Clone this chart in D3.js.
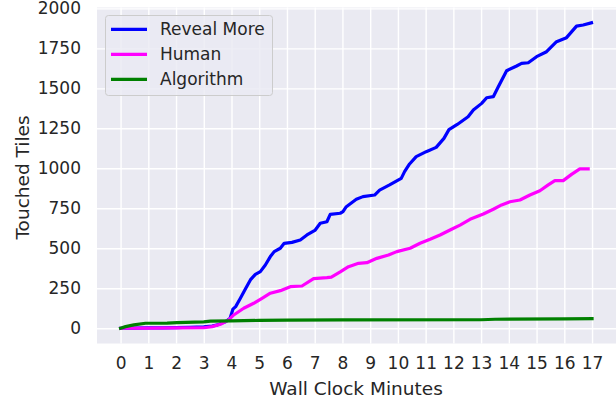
<!DOCTYPE html>
<html>
<head>
<meta charset="utf-8">
<script src="https://d3js.org/d3.v7.min.js"></script>
<style>
  body { margin: 0; background: #fff; }
  svg text { font-family: "DejaVu Sans", sans-serif; fill: #262626; }
  .grid line { stroke: #fff; stroke-width: 1.4; }
  .grid path { display: none; }
  .tick-lbl text { font-size: 17px; }
  .tick-lbl path, .tick-lbl line { display: none; }
</style>
</head>
<body>
<div id="chart"></div>
<script>
// minutes / touched tiles
var revealMore = [[0,0],[0.5,1],[1,2],[1.5,2],[2,4],[2.5,6],[3,8],[3.3,14],[3.5,21],[3.8,42],[3.95,62],
  [4.05,119],[4.15,135],[4.32,187],[4.5,245],[4.68,302],[4.86,337],[5.04,354],[5.22,395],[5.4,448],
  [5.54,479],[5.76,500],[5.9,531],[6.18,537],[6.48,552],[6.72,583],[7.02,614],[7.2,656],[7.44,666],
  [7.56,712],[7.92,719],[8.02,729],[8.14,760],[8.5,806],[8.74,823],[9.16,833],[9.34,864],[9.7,896],
  [10.12,937],[10.24,979],[10.42,1027],[10.66,1073],[11.02,1104],[11.38,1131],[11.66,1187],[11.84,1242],
  [12.14,1274],[12.53,1322],[12.72,1364],[13.02,1406],[13.2,1441],[13.44,1448],[13.62,1510],[13.92,1610],
  [14.28,1640],[14.46,1656],[14.7,1660],[15.0,1698],[15.36,1729],[15.72,1792],[16.08,1817],[16.44,1889],
  [16.68,1896],[16.98,1910]];
var human = [[0,0],[1,1],[2,2],[3,3],[3.3,10],[3.6,25],[3.9,52],[4.08,83],[4.44,125],[4.8,156],[5.1,187],
  [5.4,219],[5.76,235],[6.12,260],[6.54,264],[6.96,310],[7.44,316],[7.6,320],[7.92,352],[8.22,385],
  [8.58,406],[8.88,410],[9.24,437],[9.66,458],[9.96,479],[10.44,500],[10.8,531],[11.16,556],[11.52,583],
  [11.88,614],[12.24,645],[12.6,681],[13.08,714],[13.44,744],[13.74,771],[14.04,791],[14.4,802],
  [14.76,833],[15.12,860],[15.42,896],[15.66,923],[15.96,923],[16.26,962],[16.56,996],[16.86,996]];
var algorithm = [[0,0],[0.18,10],[0.48,21],[0.9,31],[1.68,32],[2.04,35],[3.0,40],[3.24,44],[4.0,46],
  [5,49],[6,51],[8,52],[13,53],[13.5,56],[16,58],[17,60]];

var seriesNames = ["Reveal More", "Human", "Algorithm"];
var seriesColors = ["#0000ff", "#ff00ff", "#008000"];
var xTicks = d3.range(0, 18);
var yTicks = [0, 250, 500, 750, 1000, 1250, 1500, 1750, 2000];

var width = 616, height = 404;
var plot = { left: 97, right: 617, top: 7.5, bottom: 343.5 };

var svg = d3.select("#chart").append("svg")
    .attr("width", width).attr("height", height);

var x = d3.scaleLinear().domain([-0.85, 17.9]).range([plot.left, plot.right]);
var y = d3.scaleLinear().domain([-95.5, 2005.5]).range([plot.bottom, plot.top]);

svg.append("rect")
    .attr("x", plot.left).attr("y", plot.top)
    .attr("width", plot.right - plot.left).attr("height", plot.bottom - plot.top)
    .attr("fill", "#eaeaf2");

// gridlines
svg.append("g").attr("class", "grid")
    .attr("transform", "translate(0," + plot.bottom + ")")
    .call(d3.axisBottom(x).tickValues(xTicks).tickSize(-(plot.bottom - plot.top)).tickFormat(""));
svg.append("g").attr("class", "grid")
    .attr("transform", "translate(" + plot.left + ",0)")
    .call(d3.axisLeft(y).tickValues(yTicks).tickSize(-(plot.right - plot.left)).tickFormat(""));

// tick labels
var xa = svg.append("g").attr("class", "tick-lbl")
    .attr("transform", "translate(0," + plot.bottom + ")")
    .call(d3.axisBottom(x).tickValues(xTicks).tickSize(0).tickPadding(13).tickFormat(d3.format("d")));
xa.selectAll("text").attr("fill", "#262626");
var ya = svg.append("g").attr("class", "tick-lbl")
    .attr("transform", "translate(" + plot.left + ",0)")
    .call(d3.axisLeft(y).tickValues(yTicks).tickSize(0).tickPadding(16).tickFormat(d3.format("d")));
ya.selectAll("text").attr("fill", "#262626");

// lines
var line = d3.line().x(d => x(d[0])).y(d => y(d[1]));
[revealMore, human, algorithm].forEach(function (data, i) {
    svg.append("path")
        .attr("d", line(data))
        .attr("fill", "none")
        .attr("stroke", seriesColors[i])
        .attr("stroke-width", 3.2)
        .attr("stroke-linejoin", "round")
        .attr("stroke-linecap", "square");
});

// axis labels
svg.append("text")
    .attr("x", (plot.left + plot.right) / 2 - 1).attr("y", 395)
    .attr("text-anchor", "middle")
    .style("font-size", "18.5px")
    .text("Wall Clock Minutes");
svg.append("text")
    .attr("transform", "translate(29," + ((plot.top + plot.bottom) / 2 + 2) + ") rotate(-90)")
    .attr("text-anchor", "middle")
    .style("font-size", "18.5px")
    .text("Touched Tiles");

// legend
var lg = svg.append("g");
lg.append("rect")
    .attr("x", 105.5).attr("y", 15.5).attr("width", 167).attr("height", 80)
    .attr("rx", 3)
    .attr("fill", "#eaeaf2").attr("fill-opacity", 0.8)
    .attr("stroke", "#cccccc").attr("stroke-width", 1);
seriesNames.forEach(function (name, i) {
    var yy = 29.3 + i * 25;
    lg.append("line")
        .attr("x1", 111).attr("x2", 147).attr("y1", yy).attr("y2", yy)
        .attr("stroke", seriesColors[i]).attr("stroke-width", 3.2);
    lg.append("text")
        .attr("x", 160).attr("y", yy).attr("dy", "0.36em")
        .style("font-size", "17px")
        .text(name);
});
</script>
</body>
</html>
